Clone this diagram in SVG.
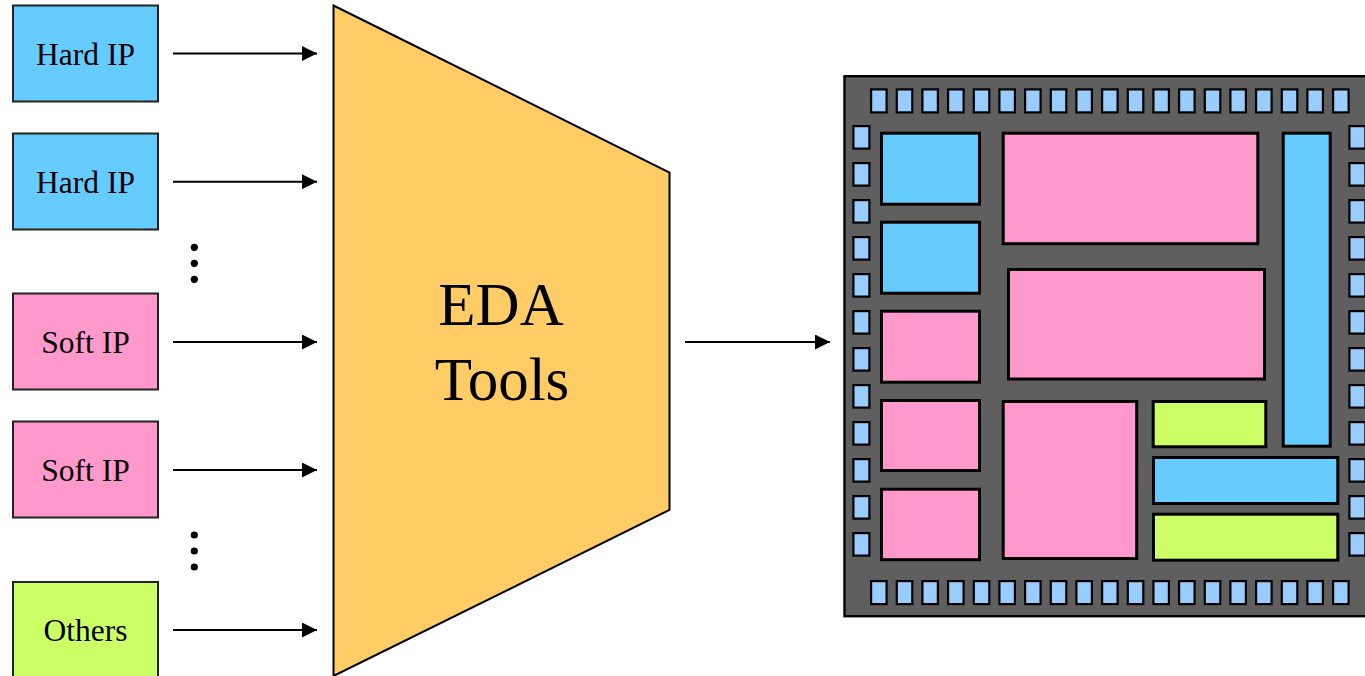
<svg xmlns="http://www.w3.org/2000/svg" width="1365" height="676" viewBox="0 0 1365 676">
  <style>
    .ip { stroke: #222; stroke-width: 2; }
    .hard { fill: #66ccff; }
    .soft { fill: #ff99cc; }
    .other { fill: #ccff66; }
    .lbl { font-family: "Liberation Serif", "Times New Roman", serif; font-size: 31.5px; fill: #000; text-anchor: middle; }
    .big { font-family: "Liberation Serif", "Times New Roman", serif; font-size: 61px; fill: #000; text-anchor: middle; }
    .wire { stroke: #000; stroke-width: 2; fill: none; marker-end: url(#head); }
    .blk { stroke: #000; stroke-width: 3; }
    .pad { fill: #99ccff; stroke: #000; stroke-width: 2.2; }
  </style>
  <defs>
    <marker id="head" viewBox="0 0 15 15" refX="15" refY="7.5" markerWidth="15" markerHeight="15" markerUnits="userSpaceOnUse" orient="auto">
      <path d="M0,0 L15,7.5 L0,15 Z" fill="#000"/>
    </marker>
    <rect id="padH" class="pad" width="15.5" height="23"/>
    <rect id="padV" class="pad" width="16" height="22.5"/>
  </defs>

  <rect width="1365" height="676" fill="#fff"/>

  <!-- IP input blocks -->
  <g id="hard-ip-1">
    <rect class="ip hard" x="13" y="5.5" width="145" height="96"/>
    <text class="lbl" x="85.5" y="65">Hard IP</text>
  </g>
  <g id="hard-ip-2">
    <rect class="ip hard" x="13" y="133.5" width="145" height="96"/>
    <text class="lbl" x="85.5" y="193">Hard IP</text>
  </g>
  <g id="dots-1">
    <circle cx="194.3" cy="247.3" r="3.6"/>
    <circle cx="194.3" cy="263.3" r="3.6"/>
    <circle cx="194.3" cy="279.3" r="3.6"/>
  </g>
  <g id="soft-ip-1">
    <rect class="ip soft" x="13" y="293.5" width="145" height="96"/>
    <text class="lbl" x="85.5" y="353">Soft IP</text>
  </g>
  <g id="soft-ip-2">
    <rect class="ip soft" x="13" y="421.5" width="145" height="96"/>
    <text class="lbl" x="85.5" y="481">Soft IP</text>
  </g>
  <g id="dots-2">
    <circle cx="194.3" cy="535" r="3.6"/>
    <circle cx="194.3" cy="551" r="3.6"/>
    <circle cx="194.3" cy="567" r="3.6"/>
  </g>
  <g id="others">
    <rect class="ip other" x="13" y="582" width="145" height="96"/>
    <text class="lbl" x="85.5" y="641">Others</text>
  </g>

  <!-- EDA tool funnel -->
  <g id="eda-tools">
    <polygon points="333.5,5.5 669.5,172.5 669.5,510 333.5,676" fill="#ffcc66" stroke="#000" stroke-width="2"/>
    <text class="big" x="501" y="325">EDA</text>
    <text class="big" x="502" y="400">Tools</text>
  </g>

  <!-- connectors -->
  <g id="connectors">
    <line class="wire" x1="173" y1="53.5" x2="317" y2="53.5"/>
    <line class="wire" x1="173" y1="181.7" x2="317" y2="181.7"/>
    <line class="wire" x1="173" y1="342" x2="317" y2="342"/>
    <line class="wire" x1="173" y1="470" x2="317" y2="470"/>
    <line class="wire" x1="173" y1="630" x2="317" y2="630"/>
    <line class="wire" x1="685" y1="342" x2="830" y2="342"/>
  </g>

  <!-- resulting chip floorplan -->
  <g id="chip">
    <rect x="844.5" y="76.2" width="540" height="540" fill="#5f5f5f" stroke="#000" stroke-width="2.4"/>

    <g id="pads-top">
      <use href="#padH" x="871.1" y="89.4"/>
      <use href="#padH" x="896.8" y="89.4"/>
      <use href="#padH" x="922.4" y="89.4"/>
      <use href="#padH" x="948.1" y="89.4"/>
      <use href="#padH" x="973.8" y="89.4"/>
      <use href="#padH" x="999.4" y="89.4"/>
      <use href="#padH" x="1025.1" y="89.4"/>
      <use href="#padH" x="1050.8" y="89.4"/>
      <use href="#padH" x="1076.4" y="89.4"/>
      <use href="#padH" x="1102.1" y="89.4"/>
      <use href="#padH" x="1127.8" y="89.4"/>
      <use href="#padH" x="1153.4" y="89.4"/>
      <use href="#padH" x="1179.1" y="89.4"/>
      <use href="#padH" x="1204.8" y="89.4"/>
      <use href="#padH" x="1230.4" y="89.4"/>
      <use href="#padH" x="1256.1" y="89.4"/>
      <use href="#padH" x="1281.8" y="89.4"/>
      <use href="#padH" x="1307.4" y="89.4"/>
      <use href="#padH" x="1333.1" y="89.4"/>
    </g>
    <g id="pads-bottom">
      <use href="#padH" x="871.1" y="581.1"/>
      <use href="#padH" x="896.8" y="581.1"/>
      <use href="#padH" x="922.4" y="581.1"/>
      <use href="#padH" x="948.1" y="581.1"/>
      <use href="#padH" x="973.8" y="581.1"/>
      <use href="#padH" x="999.4" y="581.1"/>
      <use href="#padH" x="1025.1" y="581.1"/>
      <use href="#padH" x="1050.8" y="581.1"/>
      <use href="#padH" x="1076.4" y="581.1"/>
      <use href="#padH" x="1102.1" y="581.1"/>
      <use href="#padH" x="1127.8" y="581.1"/>
      <use href="#padH" x="1153.4" y="581.1"/>
      <use href="#padH" x="1179.1" y="581.1"/>
      <use href="#padH" x="1204.8" y="581.1"/>
      <use href="#padH" x="1230.4" y="581.1"/>
      <use href="#padH" x="1256.1" y="581.1"/>
      <use href="#padH" x="1281.8" y="581.1"/>
      <use href="#padH" x="1307.4" y="581.1"/>
      <use href="#padH" x="1333.1" y="581.1"/>
    </g>
    <g id="pads-left">
      <use href="#padV" x="853.4" y="126.1"/>
      <use href="#padV" x="853.4" y="163.1"/>
      <use href="#padV" x="853.4" y="200.1"/>
      <use href="#padV" x="853.4" y="237.1"/>
      <use href="#padV" x="853.4" y="274.1"/>
      <use href="#padV" x="853.4" y="311.1"/>
      <use href="#padV" x="853.4" y="348.1"/>
      <use href="#padV" x="853.4" y="385.1"/>
      <use href="#padV" x="853.4" y="422.1"/>
      <use href="#padV" x="853.4" y="459.1"/>
      <use href="#padV" x="853.4" y="496.1"/>
      <use href="#padV" x="853.4" y="533.1"/>
    </g>
    <g id="pads-right">
      <use href="#padV" x="1349.4" y="126.1"/>
      <use href="#padV" x="1349.4" y="163.1"/>
      <use href="#padV" x="1349.4" y="200.1"/>
      <use href="#padV" x="1349.4" y="237.1"/>
      <use href="#padV" x="1349.4" y="274.1"/>
      <use href="#padV" x="1349.4" y="311.1"/>
      <use href="#padV" x="1349.4" y="348.1"/>
      <use href="#padV" x="1349.4" y="385.1"/>
      <use href="#padV" x="1349.4" y="422.1"/>
      <use href="#padV" x="1349.4" y="459.1"/>
      <use href="#padV" x="1349.4" y="496.1"/>
      <use href="#padV" x="1349.4" y="533.1"/>
    </g>

    <g id="macros">
      <rect class="blk hard" x="881.5" y="133.2" width="98" height="71"/>
      <rect class="blk hard" x="881.5" y="222.2" width="98" height="71"/>
      <rect class="blk soft" x="881.5" y="311.2" width="98" height="71"/>
      <rect class="blk soft" x="881.5" y="400.5" width="98" height="70"/>
      <rect class="blk soft" x="881.5" y="489.2" width="98" height="70.5"/>
      <rect class="blk soft" x="1003.2" y="133.2" width="254.6" height="110.5"/>
      <rect class="blk soft" x="1008.5" y="269.5" width="256" height="109.5"/>
      <rect class="blk hard" x="1283.2" y="133.2" width="47" height="313"/>
      <rect class="blk soft" x="1003.2" y="401.5" width="133.5" height="157"/>
      <rect class="blk other" x="1153.2" y="401.5" width="112.6" height="45.3"/>
      <rect class="blk hard" x="1153.5" y="457.5" width="184.3" height="46"/>
      <rect class="blk other" x="1153.5" y="514.2" width="184.3" height="46"/>
    </g>
  </g>
</svg>
